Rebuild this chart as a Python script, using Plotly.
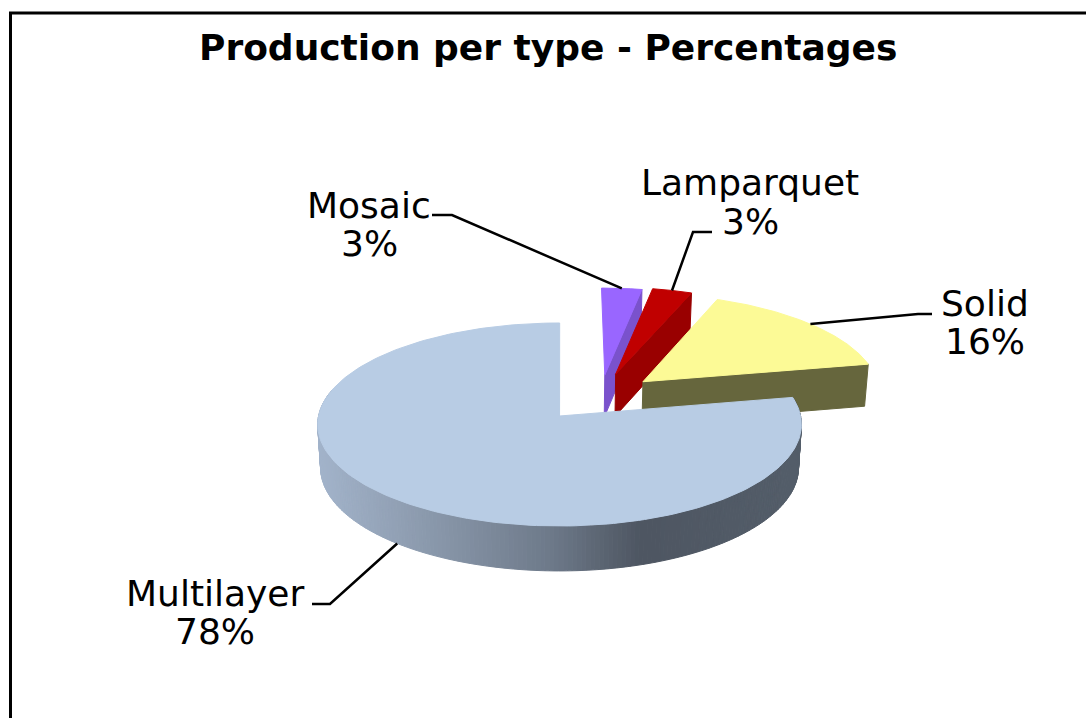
import numpy as np
import plotly.graph_objects as go

# Datos
categories = ['Mosaic', 'Lamparquet', 'Solid', 'Multilayer']
percentages = [3, 3, 16, 78]

# Estilo de cada porcion
face_colors = ['#9966ff', '#c00000', '#fcfa96', '#b8cce4']
wall_colors = ['#7a52cc', '#990000', '#66663d', None]
pull_x = [0.188, 0.235, 0.35, -0.006]
pull_y = [0.42, 0.43, 0.35, 0.0]

# Camara del pastel, en pixeles
center_x = 561
center_y = 416
radius_x = 241
radius_y = 100.8
perspective = 0.0837
depth = 43

# Degradado del borde del pastel segun x
shade_x = [316, 400, 550, 640, 800]
shade_r = [163, 145, 110, 78, 84]
shade_g = [180, 160, 122, 86, 94]
shade_b = [203, 180, 138, 98, 106]


def project(px, py, lower=False):
    s = 1 / (1 + perspective * py)
    x = center_x + px * radius_x * s
    y = center_y - py * radius_y * s
    if lower:
        x = center_x + (x - center_x) * 0.988
        y = y + depth * np.sqrt(s)
    return x, y


def rim(angle, i):
    # angle en radianes, en sentido horario desde las 12
    return pull_x[i] + np.sin(angle), pull_y[i] + np.cos(angle)


def polygon(x, y, color):
    return go.Scatter(x=x, y=y, mode='lines', fill='toself', fillcolor=color,
                      line=dict(color=color, width=1), hoverinfo='skip', showlegend=False)


fig = go.Figure()

edges = np.radians(np.cumsum([0] + percentages) * 3.6)

for i, cat in enumerate(categories):
    start, end = edges[i], edges[i + 1]
    ax, ay = project(pull_x[i], pull_y[i])

    if wall_colors[i]:
        # Cara del corte, la que mira al frente
        ex, ey = rim(end, i)
        tx, ty = project(ex, ey)
        bx, by = project(ex, ey, lower=True)
        lx, ly = project(pull_x[i], pull_y[i], lower=True)
        fig.add_trace(polygon([ax, tx, bx, lx, ax], [ay, ty, by, ly, ay], wall_colors[i]))
    else:
        # Borde exterior con degradado, por tiras; la parte de atras no se ve
        steps = np.radians(np.arange(np.degrees(start), 286, 1))
        for a0, a1 in zip(steps[:-1], steps[1:]):
            arc = np.linspace(a0, a1, 3)
            px, py = rim(arc, i)
            tx, ty = project(px, py)
            bx, by = project(px, py, lower=True)
            mid = tx.mean()
            color = 'rgb(%d,%d,%d)' % (np.interp(mid, shade_x, shade_r),
                                       np.interp(mid, shade_x, shade_g),
                                       np.interp(mid, shade_x, shade_b))
            fig.add_trace(polygon(list(tx) + list(bx[::-1]) + [tx[0]],
                                  list(ty) + list(by[::-1]) + [ty[0]], color))

    # Cara superior
    arc = np.linspace(start, end, 200)
    px, py = rim(arc, i)
    tx, ty = project(px, py)
    fig.add_trace(polygon([ax] + list(tx) + [ax], [ay] + list(ty) + [ay], face_colors[i]))

# Lineas guia: del centro del arco de cada porcion al codo de la etiqueta
elbows = [[(452, 215), (432, 215)],
          [(693, 232), (712, 232)],
          [(918, 314), (932, 314)],
          [(330, 604), (312, 604)]]
label_pos = [(369, 205, 243), (750, 182, 221), (985, 303, 341), (215, 593, 631)]
label_font = dict(family='DejaVu Sans', size=36, color='black')

shapes = []
annotations = []
for i, cat in enumerate(categories):
    mid = (edges[i] + edges[i + 1]) / 2
    px, py = rim(mid, i)
    tip = project(px, py, lower=np.cos(mid) < 0)
    pts = [tip] + elbows[i]
    path = 'M ' + ' L '.join('%.1f %.1f' % p for p in pts)
    shapes.append(dict(type='path', path=path, line=dict(color='black', width=2.5)))
    lx, ly1, ly2 = label_pos[i]
    annotations.append(dict(x=lx, y=ly1, text=cat, showarrow=False, font=label_font))
    annotations.append(dict(x=lx, y=ly2, text='%d%%' % percentages[i], showarrow=False, font=label_font))

annotations.append(dict(x=547.5, y=47, text='<b>Production per type - Percentages</b>', showarrow=False,
                        font=dict(family='DejaVu Sans', size=36, color='black')))

# Marco: solo se ven los lados izquierdo y superior
shapes.append(dict(type='rect', x0=10.5, y0=13, x1=1200, y1=800, line=dict(color='black', width=3)))

fig.update_layout(
    width=1086,
    height=718,
    margin=dict(l=0, r=0, t=0, b=0),
    paper_bgcolor='white',
    plot_bgcolor='white',
    xaxis=dict(range=[0, 1086], visible=False),
    yaxis=dict(range=[718, 0], visible=False),
    shapes=shapes,
    annotations=annotations,
    showlegend=False
)

fig.write_html("out.html", config=dict(displayModeBar=False),
               post_script="document.body.style.margin='0';")
